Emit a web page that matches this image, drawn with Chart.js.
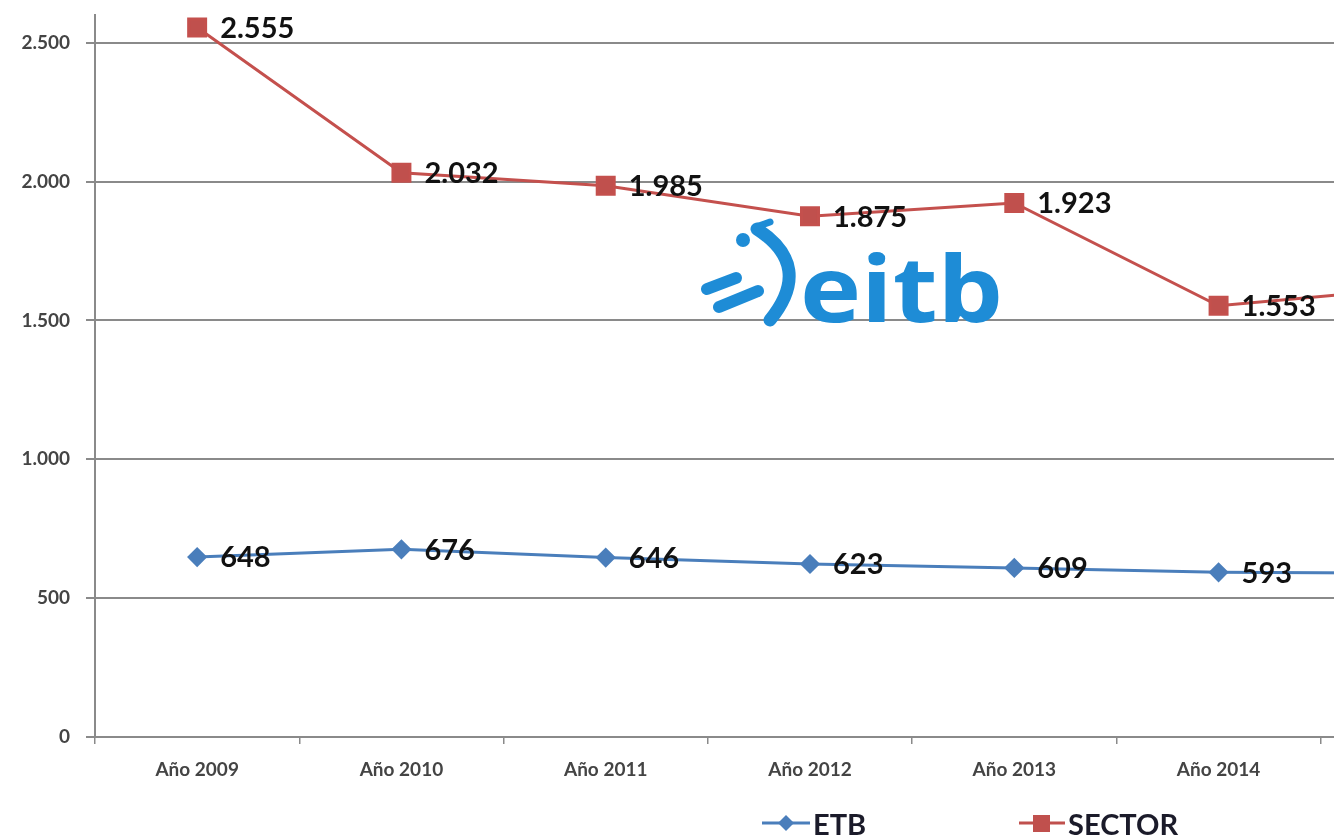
<!DOCTYPE html>
<html>
<head>
<meta charset="utf-8">
<script src="https://cdn.jsdelivr.net/npm/chart.js@4/dist/chart.umd.min.js"></script>
<style>
  html, body { margin: 0; padding: 0; background: #fff; }
  #wrap { position: relative; width: 1334px; height: 835px; overflow: hidden; }
  #box { position: absolute; left: 0; top: 0; width: 1540px; height: 835px; }
  #logo { position: absolute; left: 0; top: 0; pointer-events: none; }
  .leg { position: absolute; top: 807px; height: 32px; display: flex; align-items: center;
         font-family: Lato, "Open Sans", sans-serif; font-weight: bold; font-size: 29px; color: #1b1b2a; }
  .leg svg { margin-right: 3px; }
</style>
</head>
<body>
<div id="wrap">
  <div id="box"><canvas id="chart"></canvas></div>
  <svg id="logo" width="1334" height="835">
    <g fill="none" stroke="#1E8CD6" stroke-linecap="round">
      <path d="M757 229 Q814 266 770 320" stroke-width="13"/>
      <path d="M756 227 L770 222" stroke-width="7"/>
      <path d="M707 289 L736 278" stroke-width="12"/>
      <path d="M719 307 L758 291" stroke-width="12"/>
    </g>
    <circle cx="743" cy="240" r="7" fill="#1E8CD6"/>
    <text x="800" y="322" font-family="Open Sans, sans-serif" font-weight="bold" font-size="92"
          fill="#1E8CD6" textLength="203" lengthAdjust="spacingAndGlyphs">eitb</text>
  </svg>
  <div class="leg" style="left:762px">
    <svg width="48" height="20"><line x1="0" y1="10" x2="48" y2="10" stroke="#4A7EBB" stroke-width="3"/>
      <polygon points="24,2 32,10 24,18 16,10" fill="#4A7EBB"/></svg>ETB</div>
  <div class="leg" style="left:1019px">
    <svg width="46" height="20"><line x1="0" y1="10" x2="46" y2="10" stroke="#C0504D" stroke-width="3"/>
      <rect x="14" y="2" width="17" height="17" fill="#C0504D"/></svg>SECTOR</div>
</div>
<script>
const years = ['Año 2009', 'Año 2010', 'Año 2011', 'Año 2012', 'Año 2013', 'Año 2014', 'Año 2015'];
const etb = [648, 676, 646, 623, 609, 593, 590];
const sector = [2555, 2032, 1985, 1875, 1923, 1553, 1620];
const yTicks = [0, 500, 1000, 1500, 2000, 2500];

function fmt(v) {
    return Number(v).toLocaleString('de-DE');
}

const valueLabels = {
    id: 'valueLabels',
    afterDatasetsDraw(chart) {
        const ctx = chart.ctx;
        ctx.save();
        ctx.font = 'bold 29px Lato, "Open Sans", sans-serif';
        ctx.fillStyle = '#111';
        ctx.textAlign = 'left';
        ctx.textBaseline = 'middle';
        chart.data.datasets.forEach((ds, i) => {
            chart.getDatasetMeta(i).data.forEach((pt, j) => {
                ctx.fillText(fmt(ds.data[j]), pt.x + 23, pt.y + 1);
            });
        });
        ctx.restore();
    }
};

const gridColor = '#8a8a8a';
const tickFont = { family: 'Lato', size: 19, weight: 'bold' };

new Chart(document.getElementById('chart'), {
    type: 'line',
    data: {
        labels: years,
        datasets: [{
            label: 'ETB',
            data: etb,
            borderColor: '#4A7EBB',
            backgroundColor: '#4A7EBB',
            borderWidth: 3,
            pointStyle: 'rectRot',
            pointRadius: 8,
            tension: 0
        }, {
            label: 'SECTOR',
            data: sector,
            borderColor: '#C4504D',
            backgroundColor: '#C0504D',
            borderWidth: 3,
            pointStyle: 'rect',
            pointRadius: 12,
            tension: 0
        }]
    },
    options: {
        responsive: true,
        maintainAspectRatio: false,
        animation: false,
        layout: { padding: { top: 15, right: 10, left: 0, bottom: 0 } },
        plugins: {
            legend: { display: false },
            tooltip: { enabled: false }
        },
        scales: {
            x: {
                offset: true,
                grid: { drawOnChartArea: false, offset: true, tickLength: 7, color: gridColor, lineWidth: 1.5 },
                border: { color: gridColor, width: 2 },
                ticks: { color: '#444', font: tickFont, padding: 14, maxRotation: 0 },
                afterFit(scale) { scale.height = 98; }
            },
            y: {
                min: 0,
                max: 2600,
                afterBuildTicks(axis) {
                    axis.ticks = yTicks.map(v => ({ value: v }));
                },
                grid: { color: gridColor, lineWidth: 2, tickLength: 9 },
                border: { color: gridColor, width: 2 },
                ticks: {
                    color: '#444',
                    font: tickFont,
                    padding: 16,
                    callback: v => fmt(v)
                },
                afterFit(scale) {
                    scale.width = 95;
                    scale.paddingTop = 0;
                    scale.paddingBottom = 0;
                }
            }
        }
    },
    plugins: [valueLabels]
});
</script>
</body>
</html>
